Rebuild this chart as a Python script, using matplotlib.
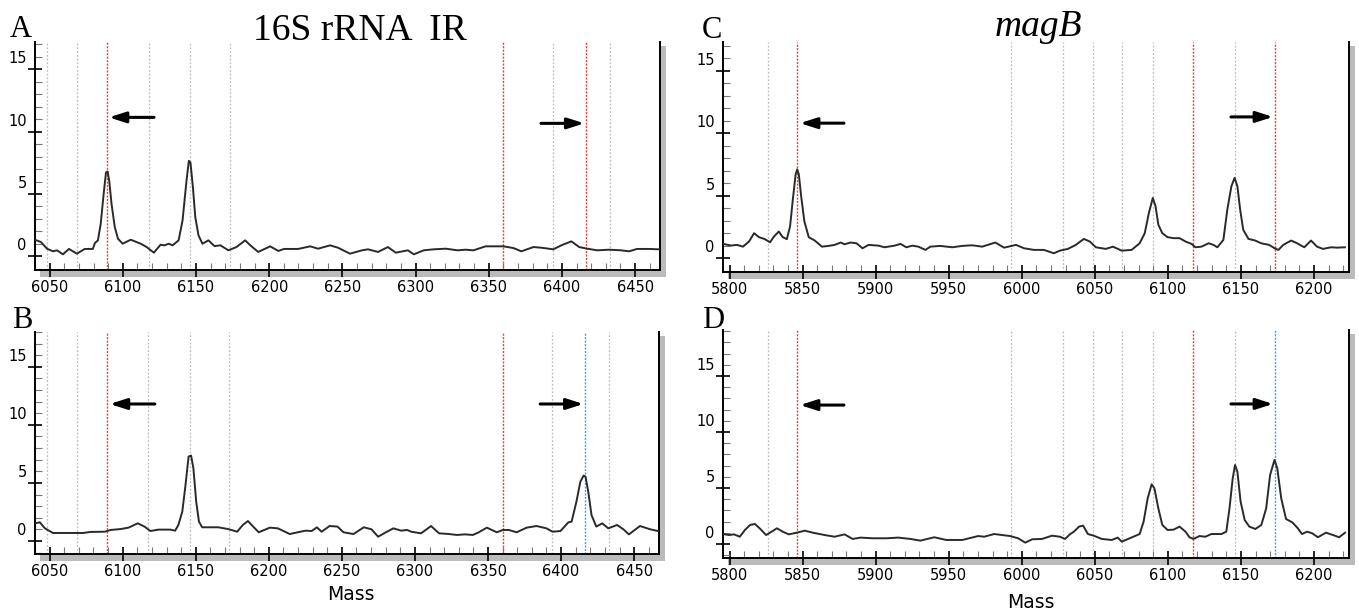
import matplotlib
matplotlib.use("Agg")
import matplotlib.pyplot as plt
from matplotlib.patches import Rectangle
from matplotlib.ticker import MultipleLocator
from matplotlib.transforms import ScaledTranslation

# spectra: (mass, intensity)
spec_a = [(6040.0, 1.33), (6044.1, 1.14), (6048.2, 0.61), (6052.3, 0.40), (6055.0, 0.48),
          (6059.1, 0.16), (6063.2, 0.59), (6068.6, 0.21), (6074.0, 0.59), (6079.5, 0.59),
          (6080.9, 1.06), (6083.0, 1.28), (6084.9, 2.61), (6086.9, 5.00), (6088.5, 6.73),
          (6089.6, 6.81), (6090.7, 6.06), (6092.3, 4.20), (6094.5, 2.34), (6096.7, 1.41),
          (6099.9, 1.01), (6105.4, 1.33), (6112.2, 1.01), (6116.3, 0.74), (6121.2, 0.29),
          (6125.8, 0.93), (6128.5, 0.88), (6131.3, 1.01), (6134.0, 0.88), (6138.1, 1.28),
          (6140.8, 2.87), (6143.5, 6.06), (6145.1, 7.66), (6146.2, 7.53), (6147.9, 5.53),
          (6149.5, 3.14), (6151.7, 1.68), (6154.4, 1.01), (6158.5, 1.28), (6162.6, 0.82),
          (6166.7, 0.88), (6172.1, 0.48), (6177.6, 0.74), (6183.6, 1.28), (6187.1, 0.88),
          (6192.5, 0.35), (6200.7, 0.80), (6206.2, 0.43), (6210.2, 0.59), (6219.8, 0.59),
          (6228.0, 0.80), (6233.4, 0.61), (6241.6, 0.88), (6247.0, 0.69), (6255.2, 0.21),
          (6263.4, 0.48), (6267.5, 0.56), (6274.3, 0.35), (6281.1, 0.74), (6286.5, 0.29),
          (6294.7, 0.48), (6298.8, 0.16), (6305.6, 0.48), (6312.4, 0.56), (6320.6, 0.61),
          (6328.7, 0.48), (6334.2, 0.53), (6339.6, 0.48), (6347.8, 0.80), (6360.1, 0.80),
          (6366.9, 0.66), (6372.3, 0.40), (6380.5, 0.74), (6385.9, 0.69), (6394.1, 0.56),
          (6399.6, 0.88), (6406.4, 1.20), (6411.8, 0.74), (6417.3, 0.61), (6424.1, 0.48),
          (6432.3, 0.53), (6440.4, 0.48), (6445.9, 0.40), (6451.3, 0.59), (6459.5, 0.59),
          (6466.3, 0.56)]

spec_b = [(6040.0, 1.52), (6043.3, 1.61), (6046.8, 1.09), (6052.3, 0.69), (6061.8, 0.69),
          (6072.7, 0.69), (6078.1, 0.78), (6087.7, 0.80), (6091.8, 0.95), (6098.6, 1.03),
          (6104.0, 1.15), (6110.3, 1.52), (6114.9, 1.24), (6119.0, 0.86), (6124.4, 0.98),
          (6132.6, 0.98), (6135.9, 0.89), (6138.1, 1.38), (6140.8, 2.53), (6143.0, 4.83),
          (6145.1, 7.27), (6146.8, 7.36), (6148.4, 6.26), (6150.3, 3.39), (6152.2, 1.67),
          (6154.4, 1.18), (6165.3, 1.18), (6172.1, 1.03), (6178.4, 0.80), (6182.2, 1.38),
          (6185.7, 1.72), (6189.3, 1.24), (6193.1, 0.75), (6200.7, 1.15), (6206.2, 1.09),
          (6214.3, 0.60), (6219.8, 0.75), (6225.2, 0.89), (6229.3, 0.86), (6232.9, 1.18),
          (6236.1, 0.80), (6241.6, 1.29), (6247.0, 1.24), (6251.1, 0.75), (6257.9, 0.60),
          (6265.0, 1.18), (6270.2, 1.01), (6274.8, 0.37), (6279.7, 0.72), (6285.2, 1.09),
          (6290.6, 0.89), (6294.7, 0.95), (6297.4, 0.80), (6304.2, 0.66), (6311.0, 1.29),
          (6316.5, 0.66), (6323.3, 0.60), (6328.7, 0.52), (6334.2, 0.57), (6339.6, 0.52),
          (6343.7, 0.75), (6349.2, 1.15), (6356.0, 0.75), (6360.1, 0.95), (6364.2, 0.95),
          (6369.6, 0.75), (6376.4, 1.15), (6383.2, 1.29), (6390.0, 1.09), (6394.1, 0.80),
          (6399.6, 0.86), (6405.0, 1.61), (6407.2, 1.67), (6410.5, 3.39), (6413.2, 5.11),
          (6415.4, 5.63), (6416.7, 5.55), (6418.6, 4.25), (6420.8, 2.24), (6424.1, 1.24),
          (6428.2, 1.52), (6432.3, 1.09), (6438.3, 1.38), (6442.6, 1.01), (6446.4, 0.57),
          (6454.0, 1.29), (6460.9, 1.01), (6466.3, 0.86)]

spec_c = [(5795.5, 1.13), (5801.0, 1.00), (5805.1, 1.05), (5809.2, 0.91), (5813.3, 1.32),
          (5816.8, 1.99), (5820.1, 1.67), (5824.2, 1.51), (5827.7, 1.26), (5830.4, 1.72),
          (5833.7, 2.12), (5836.4, 1.67), (5839.2, 1.51), (5841.4, 2.53), (5843.3, 4.68),
          (5845.2, 6.69), (5846.3, 7.10), (5847.4, 6.69), (5849.0, 4.95), (5851.2, 2.93),
          (5854.2, 1.67), (5858.3, 1.40), (5863.2, 0.91), (5867.8, 0.97), (5871.9, 1.05),
          (5876.0, 1.24), (5878.7, 1.10), (5882.8, 1.24), (5886.9, 1.18), (5891.0, 0.78),
          (5895.1, 1.05), (5902.0, 0.99), (5906.0, 0.86), (5912.9, 0.99), (5917.0, 1.13),
          (5921.0, 0.86), (5925.1, 0.99), (5929.2, 0.91), (5934.1, 0.65), (5937.4, 0.91),
          (5944.2, 0.97), (5952.4, 0.86), (5959.3, 0.97), (5966.1, 1.02), (5972.9, 0.91),
          (5981.9, 1.24), (5987.9, 0.83), (5996.1, 1.05), (6001.6, 0.78), (6008.4, 0.65),
          (6015.2, 0.65), (6022.0, 0.38), (6026.1, 0.59), (6031.6, 0.73), (6037.0, 1.05),
          (6042.5, 1.53), (6046.6, 1.32), (6050.7, 0.86), (6057.5, 0.73), (6062.4, 0.91),
          (6068.4, 0.59), (6075.2, 0.65), (6080.7, 1.18), (6084.2, 1.99), (6087.0, 3.60),
          (6089.7, 4.81), (6091.6, 4.14), (6093.5, 2.66), (6096.2, 1.99), (6099.8, 1.67),
          (6103.9, 1.59), (6108.0, 1.59), (6112.1, 1.32), (6116.2, 1.13), (6118.9, 0.86),
          (6123.0, 0.91), (6127.9, 1.18), (6131.2, 1.05), (6133.9, 0.86), (6138.0, 1.45),
          (6140.7, 3.87), (6143.5, 5.75), (6145.7, 6.42), (6147.6, 5.75), (6149.5, 3.87),
          (6151.6, 2.26), (6155.2, 1.53), (6159.8, 1.40), (6163.9, 1.18), (6169.4, 1.05),
          (6173.5, 0.75), (6175.7, 0.65), (6179.0, 1.05), (6184.4, 1.40), (6188.5, 1.18),
          (6193.4, 0.86), (6198.0, 1.40), (6202.1, 0.91), (6206.2, 0.73), (6211.7, 0.86),
          (6215.8, 0.83), (6221.2, 0.86)]

spec_d = [(5795.5, 0.89), (5799.6, 0.80), (5803.1, 0.86), (5807.0, 0.65), (5810.5, 1.25),
          (5814.1, 1.70), (5817.3, 1.79), (5820.6, 1.40), (5825.0, 0.80), (5828.8, 1.10),
          (5832.4, 1.40), (5836.4, 1.10), (5840.5, 0.86), (5846.0, 1.01), (5851.5, 1.19),
          (5856.9, 1.01), (5865.1, 0.80), (5871.9, 0.65), (5878.7, 0.86), (5884.2, 0.45),
          (5889.7, 0.57), (5897.9, 0.51), (5907.4, 0.51), (5915.6, 0.57), (5923.8, 0.45),
          (5930.6, 0.30), (5940.1, 0.60), (5948.3, 0.36), (5959.3, 0.36), (5970.2, 0.71),
          (5974.3, 0.65), (5981.1, 0.89), (5992.0, 0.71), (5997.5, 0.51), (6002.4, 0.12),
          (6007.1, 0.42), (6013.8, 0.45), (6020.7, 0.74), (6026.1, 0.65), (6029.7, 0.45),
          (6032.9, 0.86), (6035.7, 1.10), (6039.2, 1.55), (6042.0, 1.64), (6045.3, 0.89),
          (6049.3, 0.74), (6054.8, 0.45), (6061.6, 0.36), (6065.7, 0.57), (6068.4, 0.21),
          (6073.9, 0.51), (6080.7, 0.89), (6083.4, 1.99), (6086.2, 4.08), (6088.9, 5.33),
          (6090.8, 4.97), (6093.5, 3.18), (6096.2, 1.70), (6099.8, 1.25), (6103.9, 1.28),
          (6108.0, 1.55), (6112.1, 1.10), (6114.8, 0.60), (6117.6, 0.45), (6121.6, 0.71),
          (6125.7, 0.65), (6129.8, 0.89), (6136.7, 0.89), (6140.0, 1.10), (6142.2, 3.18),
          (6144.4, 5.86), (6146.0, 7.05), (6147.6, 6.46), (6149.8, 3.78), (6152.6, 2.14),
          (6155.8, 1.55), (6159.9, 1.34), (6164.0, 1.70), (6167.3, 3.18), (6170.0, 6.16),
          (6173.0, 7.50), (6174.9, 6.76), (6177.6, 4.08), (6180.9, 2.23), (6185.2, 1.93),
          (6189.0, 1.40), (6191.8, 0.89), (6195.3, 1.10), (6198.9, 0.95), (6202.7, 0.60),
          (6208.2, 1.01), (6213.1, 0.80), (6217.2, 0.60), (6221.3, 1.01)]

# marker lines
gray_ab = [6048.2, 6068.6, 6117.6, 6146.2, 6172.9, 6394.1, 6433.1]
red_ab = [6089.0, 6360.0]
gray_cd = [5826.0, 5992.3, 6028.0, 6048.8, 6068.4, 6089.7, 6146.2]
red_cd = [5846.0, 6117.0]
last_ab = 6416.7
last_cd = 6173.3

RED = "#f03c3c"
BLUE = "#3fa0f0"

fig = plt.figure(figsize=(13.59, 6.15), dpi=100)
W, H = 1359, 615


def make_ax(l, r, t, b):
    return fig.add_axes([l / W, 1 - b / H, (r - l) / W, (b - t) / H])


panels = [
    dict(box=(35, 660, 42, 270), xlim=(6040, 6467), ylim=(-1.1, 17.2), spec=spec_a,
         gray=gray_ab, red=red_ab, last=(last_ab, RED),
         arrows=[(6121.3, 6090.5, 11.15), (6385.7, 6415.3, 10.67)]),
    dict(box=(35, 659, 332, 554), xlim=(6040, 6467), ylim=(-1.12, 18.0), spec=spec_b,
         gray=gray_ab, red=red_ab, last=(last_ab, BLUE),
         arrows=[(6122.0, 6091.2, 11.8), (6385.7, 6415.3, 11.8)]),
    dict(box=(723, 1349, 42, 272), xlim=(5795.5, 6224), ylim=(-1.12, 17.3), spec=spec_c,
         gray=gray_cd, red=red_cd, last=(last_cd, RED),
         arrows=[(5878.3, 5848.2, 10.8), (6143.2, 6172.0, 11.3)]),
    dict(box=(723, 1349, 330, 558), xlim=(5795.5, 6224), ylim=(-1.25, 19.1), spec=spec_d,
         gray=gray_cd, red=red_cd, last=(last_cd, BLUE),
         arrows=[(5878.3, 5848.2, 12.4), (6143.2, 6172.0, 12.5)]),
]

for p in panels:
    l, r, t, b = p["box"]
    ax = make_ax(l, r, t, b)
    ax.set_xlim(*p["xlim"])
    ax.set_ylim(*p["ylim"])

    for m in p["gray"]:
        ax.axvline(m, color="#bdbdbd", lw=0.9, ls=(0, (1.5, 1.5)), zorder=1)
    for m in p["red"]:
        ax.axvline(m, color=RED, lw=1.0, ls=(0, (1.5, 1.0)), zorder=1)
    ax.axvline(p["last"][0], color=p["last"][1], lw=1.0, ls=(0, (1.5, 1.0)), zorder=1)

    xs = [m for m, v in p["spec"]]
    ys = [v for m, v in p["spec"]]
    ax.plot(xs, ys, color="#2a2a2a", lw=1.4, zorder=3, solid_joinstyle="round")

    for tail, head, yy in p["arrows"]:
        ax.annotate("", xy=(head, yy), xytext=(tail, yy),
                    arrowprops=dict(arrowstyle="-|>,head_length=1.0,head_width=0.32",
                                    color="black", lw=2.2, shrinkA=0, shrinkB=0),
                    zorder=4)

    ax.spines["top"].set_visible(False)
    for s in ("left", "right", "bottom"):
        ax.spines[s].set_linewidth(1.4)
        ax.spines[s].set_color("black")
    ax.xaxis.set_major_locator(MultipleLocator(50))
    ax.xaxis.set_minor_locator(MultipleLocator(10))
    ax.yaxis.set_major_locator(MultipleLocator(5))
    ax.yaxis.set_minor_locator(MultipleLocator(1))
    ax.tick_params(axis="both", which="major", direction="inout", length=10,
                   width=1.2, color="black", labelsize=10.5, pad=2)
    ax.tick_params(axis="both", which="minor", direction="in", length=5,
                   width=0.8, color="#777777")
    ax.tick_params(axis="y", which="major", pad=1)
    ax.set_yticks([0, 5, 10, 15])
    for lab in ax.get_yticklabels():
        lab.set_transform(lab.get_transform() +
                          ScaledTranslation(0, 0.12, fig.dpi_scale_trans))

    # drop shadow under the bottom and right spines
    aw, ah = r - l, b - t
    ax.add_patch(Rectangle((5 / aw, -7 / ah), 1, 6 / ah, transform=ax.transAxes,
                           color="#bbbbbb", lw=0, clip_on=False, zorder=0))
    ax.add_patch(Rectangle((1 + 1 / aw, -7 / ah), 5 / aw, 1 + 3 / ah,
                           transform=ax.transAxes, color="#bbbbbb", lw=0,
                           clip_on=False, zorder=0))

serif = "Liberation Serif"
fig.text(10 / W, 1 - 37 / H, "A", fontsize=22, family=serif)
fig.text(12 / W, 1 - 328 / H, "B", fontsize=22, family=serif)
fig.text(702 / W, 1 - 38 / H, "C", fontsize=22, family=serif)
fig.text(702 / W, 1 - 328 / H, "D", fontsize=22, family=serif)
fig.text(360 / W, 1 - 40 / H, "16S rRNA  IR", fontsize=27, family=serif, ha="center")
fig.text(1038 / W, 1 - 36 / H, "magB", fontsize=27, family=serif, style="italic",
         ha="center")
fig.text(351 / W, 1 - 595 / H, "Mass", fontsize=13.5, ha="center", va="center")
fig.text(1031 / W, 1 - 603 / H, "Mass", fontsize=13.5, ha="center", va="center")

plt.savefig("out.png", dpi=100)
